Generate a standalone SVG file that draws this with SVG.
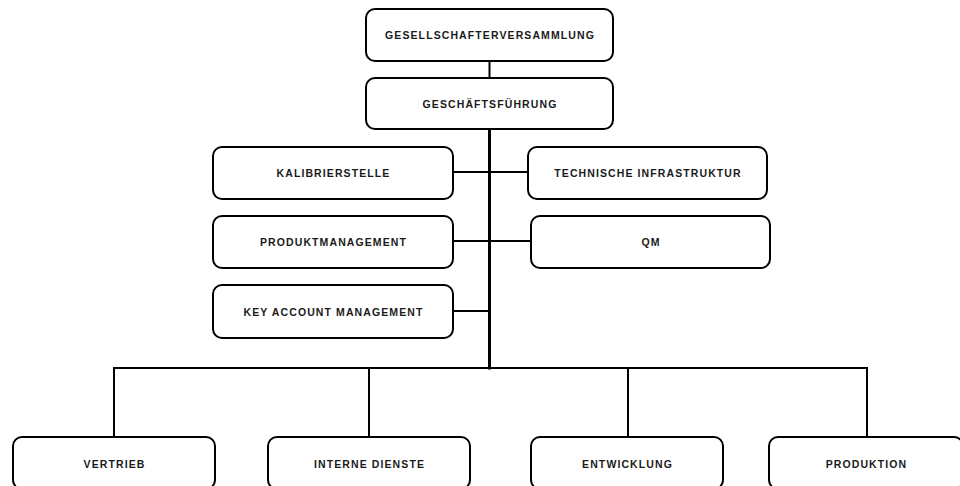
<svg xmlns="http://www.w3.org/2000/svg" width="960" height="486" viewBox="0 0 960 486">
<style>
.box{fill:#fff;stroke:#000;stroke-width:2}
.lbl{font-family:"Liberation Sans",Arial,sans-serif;font-weight:bold;font-size:10.5px;letter-spacing:1.1px;fill:#1a1a1a;text-anchor:middle}
.c{stroke:#000;stroke-width:2;fill:none}
.t{stroke:#000;stroke-width:3;fill:none}
</style>
<rect width="960" height="486" fill="#fff"/>
<g id="connectors">
<line class="c" x1="489.5" y1="61" x2="489.5" y2="78"/>
<line class="t" x1="489.5" y1="129" x2="489.5" y2="369.5"/>
<line class="c" x1="453" y1="172" x2="528" y2="172"/>
<line class="c" x1="453" y1="241" x2="531" y2="241"/>
<line class="c" x1="453" y1="311" x2="489" y2="311"/>
<polyline class="c" points="114,437 114,368 867,368 867,437"/>
<line class="c" x1="369" y1="368" x2="369" y2="437"/>
<line class="c" x1="628" y1="368" x2="628" y2="437"/>
</g>
<g id="gesellschafterversammlung"><rect class="box" x="366" y="9" width="247" height="52" rx="9"/><text class="lbl" x="490" y="39">GESELLSCHAFTERVERSAMMLUNG</text></g>
<g id="geschaeftsfuehrung"><rect class="box" x="366" y="78" width="247" height="51" rx="9"/><text class="lbl" x="490" y="107.5">GESCHÄFTSFÜHRUNG</text></g>
<g id="kalibrierstelle"><rect class="box" x="213" y="147" width="240" height="52" rx="9"/><text class="lbl" x="333.5" y="177">KALIBRIERSTELLE</text></g>
<g id="technische-infrastruktur"><rect class="box" x="528" y="147" width="239" height="52" rx="9"/><text class="lbl" x="648" y="177">TECHNISCHE INFRASTRUKTUR</text></g>
<g id="produktmanagement"><rect class="box" x="213" y="216" width="240" height="52" rx="9"/><text class="lbl" x="333.5" y="246">PRODUKTMANAGEMENT</text></g>
<g id="qm"><rect class="box" x="531" y="216" width="239" height="52" rx="9"/><text class="lbl" x="651" y="246">QM</text></g>
<g id="key-account-management"><rect class="box" x="213" y="285" width="240" height="53" rx="9"/><text class="lbl" x="333.5" y="315.5">KEY ACCOUNT MANAGEMENT</text></g>
<g id="vertrieb"><rect class="box" x="13" y="437" width="202" height="52" rx="9"/><text class="lbl" x="114.5" y="467.5">VERTRIEB</text></g>
<g id="interne-dienste"><rect class="box" x="268" y="437" width="202" height="52" rx="9"/><text class="lbl" x="369.5" y="467.5">INTERNE DIENSTE</text></g>
<g id="entwicklung"><rect class="box" x="531" y="437" width="192" height="52" rx="9"/><text class="lbl" x="627.5" y="467.5">ENTWICKLUNG</text></g>
<g id="produktion"><rect class="box" x="769" y="437" width="194" height="52" rx="9"/><text class="lbl" x="866.5" y="467.5">PRODUKTION</text></g>
</svg>
